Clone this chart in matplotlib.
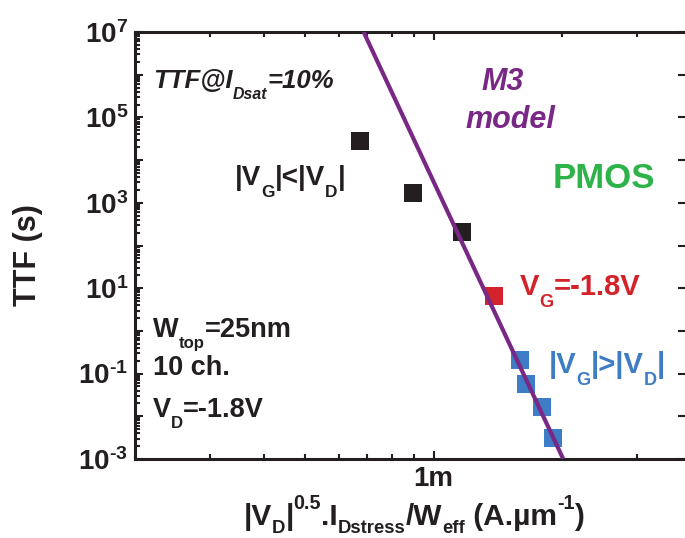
import numpy as np
import matplotlib
matplotlib.use('Agg')
import matplotlib.pyplot as plt
from matplotlib.ticker import FixedLocator, NullFormatter

plt.rcParams['font.family'] = ['Liberation Sans', 'DejaVu Sans']
plt.rcParams['font.weight'] = 'bold'
plt.rcParams['mathtext.fontset'] = 'custom'
plt.rcParams['mathtext.rm'] = 'Liberation Sans:bold'
plt.rcParams['mathtext.bf'] = 'Liberation Sans:bold'
plt.rcParams['mathtext.it'] = 'Liberation Sans:italic:bold'
plt.rcParams['mathtext.default'] = 'rm'

# ---- data ----
low_x = [0.671e-3, 0.893e-3, 1.163e-3]          # |VG|<|VD|
low_y = [2.8e4, 1.7e3, 2.07e2]
mid_x = [1.388e-3]                               # VG = -1.8 V
mid_y = [6.6]
high_x = [1.596e-3, 1.649e-3, 1.797e-3, 1.906e-3]  # |VG|>|VD|
high_y = [0.21, 0.057, 0.0166, 0.0031]
model_x = [0.686e-3, 2.012e-3]                   # M3 model line
model_y = [1e7, 1e-3]

ytick_exps = [-3, -1, 1, 3, 5, 7]
ytick_labels = [r'$10^{\text{-}3}$', r'$10^{\text{-}1}$', r'$10^{1}$', r'$10^{3}$', r'$10^{5}$', r'$10^{7}$']
xticks = [1e-3]
xtick_labels = ['1m']

W, H = 685, 538
fig = plt.figure(figsize=(W / 100, H / 100), dpi=100)
ax = fig.add_axes([135 / W, 1 - 459 / H, (686 - 135) / W, (459 - 32) / H])
ax.set_xscale('log')
ax.set_yscale('log')
ax.set_xlim(2.0e-4, 3.9e-3)
ax.set_ylim(1e-3, 1e7)

black = '#231f20'
red = '#d2232a'
blue = '#3f7cc6'
green = '#2db34a'
purple = '#792886'

ms = 12.5
ax.plot(low_x, low_y, 's', color=black, ms=ms, mew=0, zorder=3)
ax.plot(mid_x, mid_y, 's', color=red, ms=ms, mew=0, zorder=3)
ax.plot(high_x, high_y, 's', color=blue, ms=ms, mew=0, zorder=3)
ax.plot(model_x, model_y, '-', color=purple, lw=3.0, solid_capstyle='butt', zorder=4)

# ticks
labels = {k: l for k, l in zip(ytick_exps, ytick_labels)}
ax.set_yticks([10.0 ** k for k in range(-3, 8)])
ax.set_yticklabels([labels.get(k, '') for k in range(-3, 8)])
ax.yaxis.set_minor_locator(FixedLocator([m * 10.0 ** k for k in range(-3, 7) for m in range(2, 10)]))
ax.yaxis.set_minor_formatter(NullFormatter())

ax.set_xticks(xticks)
ax.set_xticklabels(xtick_labels)
ax.xaxis.set_minor_locator(FixedLocator([m * 1e-4 for m in range(2, 10)] + [m * 1e-3 for m in range(2, 4)]))
ax.xaxis.set_minor_formatter(NullFormatter())

ax.tick_params(which='both', direction='in', top=True, right=True, width=1.5, colors=black)
ax.tick_params(which='major', length=6, labelsize=20, pad=5)
ax.tick_params(which='minor', length=3.5)
ax.tick_params(axis='y', which='minor', right=False)
for lab in ax.get_xticklabels() + ax.get_yticklabels():
    lab.set_fontweight('bold')
for s in ax.spines.values():
    s.set_linewidth(2.2)
    s.set_color(black)

fig.canvas.draw()
renderer = fig.canvas.get_renderer()

SUP_SCALE, SUP_RISE = 0.66, 0.55


def rich(x, y, parts, fontsize, color, style='normal', ha='left', sub_scale=0.62, sub_drop=0.42):
    """Draw a run of text pieces; x, y are pixel positions (y from top, baseline)."""
    px_per_pt = 100 / 72
    pieces = []
    total = 0.0
    for s, kind in parts:
        fs = fontsize if kind == 'n' else fontsize * (sub_scale if kind == 'sub' else SUP_SCALE)
        t = fig.text(0, 0, s, fontsize=fs, color=color, style=style, fontweight='bold')
        w = t.get_window_extent(renderer).width
        pieces.append((t, w, kind))
        total += w
    x0 = x - total / 2 if ha == 'center' else x
    cx = x0
    for t, w, kind in pieces:
        dy = 0
        if kind == 'sub':
            dy = -sub_drop * fontsize * px_per_pt
        elif kind == 'sup':
            dy = SUP_RISE * fontsize * px_per_pt
        t.set_position((cx / W, (H - y + dy) / H))
        t.set_va('baseline')
        t.set_ha('left')
        cx += w


fig.text(28 / W, 1 - 255 / H, 'TTF (s)', rotation=90, ha='center', va='center', fontsize=22, color=black)
rich(414, 525, [('|V', 'n'), ('D', 'sub'), ('|', 'n'), ('0.5', 'sup'), ('.I', 'n'), ('Dstress', 'sub'),
                ('/W', 'n'), ('eff', 'sub'), (' (A.µm', 'n'), ('-1', 'sup'), (')', 'n')],
     21.5, black, ha='center', sub_drop=0.28)

rich(153, 88, [('TTF@I', 'n'), ('Dsat', 'sub'), ('=10%', 'n')], 18.5, black, style='italic')
fig.text(503 / W, 1 - 90 / H, 'M3', style='italic', ha='center', va='baseline', fontsize=22, color=purple)
fig.text(510 / W, 1 - 128 / H, 'model', style='italic', ha='center', va='baseline', fontsize=22, color=purple)
fig.text(553 / W, 1 - 188 / H, 'PMOS', ha='left', va='baseline', fontsize=25, color=green)
rich(235, 185, [('|V', 'n'), ('G', 'sub'), ('|<|V', 'n'), ('D', 'sub'), ('|', 'n')], 20, black)
rich(520, 295, [('V', 'n'), ('G', 'sub'), ('=-1.8V', 'n')], 21, red)
rich(549, 373, [('|V', 'n'), ('G', 'sub'), ('|>|V', 'n'), ('D', 'sub'), ('|', 'n')], 21, blue)
rich(153, 337, [('W', 'n'), ('top', 'sub'), ('=25nm', 'n')], 19.5, black)
fig.text(153 / W, 1 - 375 / H, '10 ch.', ha='left', va='baseline', fontsize=19.5, color=black)
rich(153, 417, [('V', 'n'), ('D', 'sub'), ('=-1.8V', 'n')], 19.5, black)

fig.savefig('out.png', dpi=100)
